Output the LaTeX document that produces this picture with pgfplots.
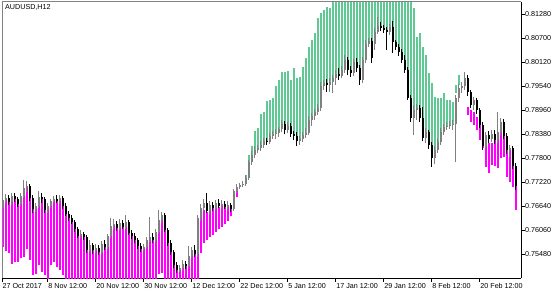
\documentclass[border=0pt]{standalone}
\usepackage{fontspec}
\setmainfont{Liberation Sans}
\usepackage{pgfplots}
\usepackage{pgfplotstable}
\pgfplotsset{compat=1.18}
\definecolor{histgreen}{RGB}{96,200,146}
\definecolor{histmag}{RGB}{255,0,255}
\definecolor{bullgray}{RGB}{128,128,128}
\definecolor{framegray}{RGB}{130,130,130}

\pgfplotstableread{
x o h l c
1 0.76599 0.76865 0.76430 0.76792
2 0.76792 0.76937 0.76720 0.76840
3 0.76840 0.76913 0.76671 0.76744
4 0.76744 0.76961 0.76671 0.76889
5 0.76889 0.76961 0.76744 0.76816
6 0.76816 0.76865 0.76623 0.76695
7 0.76695 0.76961 0.76647 0.76889
8 0.76889 0.77276 0.76840 0.77082
9 0.77082 0.77251 0.76985 0.77131
10 0.77131 0.77179 0.76768 0.76840
11 0.76840 0.76913 0.76478 0.76575
12 0.76575 0.76720 0.76502 0.76647
13 0.76647 0.77010 0.76599 0.76865
14 0.76865 0.76961 0.76720 0.76816
15 0.76816 0.76865 0.76478 0.76550
16 0.76550 0.76720 0.76478 0.76647
17 0.76647 0.76816 0.76599 0.76768
18 0.76768 0.76889 0.76720 0.76816
19 0.76816 0.76913 0.76720 0.76768
20 0.76768 0.76913 0.76695 0.76840
21 0.76840 0.76889 0.76575 0.76647
22 0.76647 0.76720 0.76405 0.76454
23 0.76454 0.76526 0.76285 0.76357
24 0.76357 0.76430 0.76212 0.76260
25 0.76260 0.76309 0.76019 0.76091
26 0.76091 0.76140 0.75874 0.75922
27 0.75922 0.76067 0.75874 0.75970
28 0.75970 0.76019 0.75825 0.75898
29 0.75898 0.75946 0.75511 0.75584
30 0.75584 0.75825 0.75535 0.75705
31 0.75705 0.75753 0.75487 0.75584
32 0.75584 0.75729 0.75511 0.75632
33 0.75632 0.75705 0.75463 0.75535
34 0.75535 0.75801 0.75487 0.75729
35 0.75729 0.75825 0.75584 0.75656
36 0.75656 0.75970 0.75608 0.75922
37 0.75922 0.76357 0.75874 0.76164
38 0.76164 0.76333 0.76091 0.76212
39 0.76212 0.76285 0.76043 0.76115
40 0.76115 0.76333 0.76067 0.76236
41 0.76236 0.76309 0.76091 0.76140
42 0.76140 0.76430 0.76091 0.76260
43 0.76260 0.76309 0.75946 0.75995
44 0.75995 0.76067 0.75850 0.75922
45 0.75922 0.75995 0.75753 0.75825
46 0.75825 0.75874 0.75608 0.75680
47 0.75680 0.75753 0.75535 0.75608
48 0.75608 0.75729 0.75560 0.75656
49 0.75656 0.75898 0.75608 0.75825
50 0.75825 0.76381 0.75777 0.75898
51 0.75898 0.75995 0.75753 0.75825
52 0.75825 0.76091 0.75777 0.76019
53 0.76019 0.76550 0.75970 0.76309
54 0.76309 0.76502 0.76236 0.76430
55 0.76430 0.76478 0.76019 0.76067
56 0.76067 0.76115 0.75680 0.75753
57 0.75753 0.75825 0.75463 0.75535
58 0.75535 0.75584 0.75149 0.75221
59 0.75221 0.75294 0.75028 0.75100
60 0.75100 0.75221 0.75052 0.75149
61 0.75149 0.75342 0.75076 0.75245
62 0.75245 0.75318 0.75125 0.75197
63 0.75197 0.75680 0.75149 0.75439
64 0.75439 0.75656 0.75390 0.75584
65 0.75584 0.75705 0.75415 0.75487
66 0.75487 0.76430 0.75415 0.76357
67 0.76357 0.76695 0.76285 0.76599
68 0.76599 0.76816 0.76526 0.76720
69 0.76720 0.76961 0.76478 0.76526
70 0.76526 0.76768 0.76454 0.76671
71 0.76671 0.76744 0.76526 0.76599
72 0.76599 0.76792 0.76550 0.76720
73 0.76720 0.76816 0.76599 0.76647
74 0.76647 0.76792 0.76575 0.76695
75 0.76695 0.76768 0.76575 0.76623
76 0.76623 0.76768 0.76550 0.76671
77 0.76671 0.76720 0.76502 0.76575
78 0.76575 0.77058 0.76526 0.77010
79 0.77010 0.77179 0.76961 0.77106
80 0.77106 0.77203 0.77058 0.77155
81 0.77155 0.77251 0.77106 0.77179
82 0.77179 0.77396 0.77131 0.77324
83 0.77324 0.77759 0.77276 0.77711
84 0.77711 0.77977 0.77638 0.77880
85 0.77880 0.78097 0.77807 0.78001
86 0.78001 0.78122 0.77928 0.78049
87 0.78049 0.78218 0.77977 0.78122
88 0.78122 0.78291 0.78049 0.78218
89 0.78218 0.78291 0.78122 0.78194
90 0.78194 0.78412 0.78146 0.78339
91 0.78339 0.78460 0.78267 0.78387
92 0.78387 0.78508 0.78267 0.78412
93 0.78412 0.78557 0.78315 0.78508
94 0.78508 0.78726 0.78436 0.78629
95 0.78629 0.78702 0.78387 0.78484
96 0.78484 0.78677 0.78412 0.78581
97 0.78581 0.78653 0.78315 0.78387
98 0.78387 0.78460 0.78242 0.78339
99 0.78339 0.78436 0.78097 0.78218
100 0.78218 0.78339 0.78122 0.78267
101 0.78267 0.78436 0.78194 0.78363
102 0.78363 0.78532 0.78291 0.78412
103 0.78412 0.78822 0.78363 0.78726
104 0.78726 0.78895 0.78581 0.78822
105 0.78822 0.78992 0.78726 0.78919
106 0.78919 0.79112 0.78847 0.79016
107 0.79016 0.79644 0.78943 0.79547
108 0.79547 0.79693 0.79451 0.79620
109 0.79620 0.79717 0.79402 0.79572
110 0.79572 0.79741 0.79402 0.79644
111 0.79644 0.79813 0.79378 0.79741
112 0.79741 0.79934 0.79572 0.79837
113 0.79837 0.79982 0.79693 0.79789
114 0.79789 0.80031 0.79741 0.79934
115 0.79934 0.80297 0.79862 0.80176
116 0.80176 0.80248 0.79813 0.79934
117 0.79934 0.80031 0.79765 0.79862
118 0.79862 0.80200 0.79789 0.80127
119 0.80127 0.80224 0.79886 0.79982
120 0.79982 0.80055 0.79572 0.79693
121 0.79693 0.80248 0.79620 0.80176
122 0.80176 0.80659 0.80103 0.80563
123 0.80563 0.80708 0.80490 0.80635
124 0.80635 0.80708 0.80103 0.80224
125 0.80563 0.80949 0.80418 0.80853
126 0.80853 0.81215 0.80804 0.80998
127 0.80998 0.81094 0.80877 0.80949
128 0.80949 0.81022 0.80828 0.80901
129 0.80901 0.80973 0.80418 0.80853
130 0.80853 0.81046 0.80780 0.80973
131 0.80973 0.81118 0.80345 0.80611
132 0.80611 0.80659 0.80418 0.80490
133 0.80490 0.80563 0.80272 0.80369
134 0.80369 0.80442 0.80103 0.80176
135 0.80176 0.80297 0.79862 0.79934
136 0.79934 0.80007 0.79209 0.79257
137 0.79257 0.79330 0.78677 0.78774
138 0.78774 0.79088 0.78363 0.78968
139 0.78968 0.79112 0.78726 0.79016
140 0.79016 0.79088 0.78677 0.78774
141 0.78774 0.79040 0.78218 0.78291
142 0.78291 0.78532 0.78170 0.78436
143 0.78436 0.78484 0.78025 0.78122
144 0.78122 0.78194 0.77590 0.77807
145 0.77807 0.78097 0.77662 0.78001
146 0.78001 0.78267 0.77928 0.78194
147 0.78194 0.78532 0.78122 0.78436
148 0.78436 0.78629 0.78363 0.78557
149 0.78557 0.78677 0.78484 0.78581
150 0.78581 0.78702 0.78508 0.78605
151 0.78605 0.78726 0.78484 0.78629
152 0.78629 0.79330 0.77711 0.79257
153 0.79257 0.79596 0.79161 0.79499
154 0.79499 0.79644 0.79378 0.79547
155 0.79547 0.79886 0.79451 0.79741
156 0.79741 0.79813 0.79306 0.79402
157 0.79402 0.79451 0.79016 0.79088
158 0.79088 0.79282 0.78968 0.79209
159 0.79209 0.79257 0.78871 0.78968
160 0.78968 0.79016 0.78532 0.78605
161 0.78605 0.78677 0.78001 0.78097
162 0.78097 0.78436 0.78049 0.78363
163 0.78363 0.78460 0.78170 0.78267
164 0.78267 0.78484 0.78194 0.78387
165 0.78387 0.78484 0.78146 0.78242
166 0.78242 0.78919 0.78170 0.78436
167 0.78436 0.78774 0.78363 0.78677
168 0.78677 0.78750 0.78267 0.78339
169 0.78339 0.78412 0.77904 0.78001
170 0.78001 0.78122 0.77832 0.78049
171 0.78049 0.78097 0.77542 0.77614
172 0.77614 0.77687 0.77034 0.77131
}\cand

\pgfplotstableread{
x lo hi
82 0.77276 0.77396
83 0.77687 0.77880
84 0.77856 0.78097
85 0.77977 0.78460
86 0.78025 0.78532
87 0.78097 0.78871
88 0.78194 0.78919
89 0.78194 0.79185
90 0.78315 0.79209
91 0.78363 0.79257
92 0.78387 0.79547
93 0.78484 0.79693
94 0.78605 0.79886
95 0.78605 0.79886
96 0.78557 0.79910
97 0.78557 0.79693
98 0.78363 0.79982
99 0.78315 0.79741
100 0.78242 0.79765
101 0.78339 0.80007
102 0.78387 0.80224
103 0.78702 0.80490
104 0.78798 0.80659
105 0.78895 0.80828
106 0.78992 0.81191
107 0.79523 0.81312
108 0.79596 0.81384
109 0.79596 0.81457
110 0.79620 0.81433
111 0.79717 0.81750
112 0.79813 0.81750
113 0.79813 0.81750
114 0.79910 0.81750
115 0.80152 0.81750
116 0.80152 0.81750
117 0.79910 0.81750
118 0.80103 0.81750
119 0.80103 0.81750
120 0.79958 0.81750
121 0.80152 0.81750
122 0.80538 0.81750
123 0.80611 0.81750
124 0.80611 0.81750
125 0.80828 0.81750
126 0.80973 0.81750
127 0.80973 0.81750
128 0.80925 0.81750
129 0.80877 0.81750
130 0.80949 0.81750
131 0.80949 0.81750
132 0.80587 0.81750
133 0.80466 0.81750
134 0.80345 0.81750
135 0.80152 0.81750
136 0.79910 0.81750
137 0.79233 0.81750
138 0.78943 0.81433
139 0.78992 0.80732
140 0.78992 0.80828
141 0.78750 0.80490
142 0.78412 0.80297
143 0.78412 0.79862
144 0.78097 0.79620
145 0.77977 0.79282
146 0.78170 0.79257
147 0.78412 0.79257
148 0.78532 0.79378
149 0.78557 0.79209
150 0.78581 0.79209
151 0.78605 0.79161
152 0.79378 0.79572
153 0.79572 0.79813
}\greenh

\pgfplotstableread{
x lo hi
1 0.75656 0.76599
2 0.75560 0.76792
3 0.75511 0.76744
4 0.75245 0.76744
5 0.75294 0.76816
6 0.75294 0.76695
7 0.75390 0.76695
8 0.75415 0.76889
9 0.75608 0.77082
10 0.75342 0.76840
11 0.74980 0.76575
12 0.75004 0.76575
13 0.75221 0.76647
14 0.75052 0.76816
15 0.74980 0.76550
16 0.74859 0.76550
17 0.75221 0.76647
18 0.75294 0.76768
19 0.75173 0.76768
20 0.75100 0.76768
21 0.74980 0.76647
22 0.74800 0.76454
23 0.74800 0.76357
24 0.74800 0.76260
25 0.74800 0.76091
26 0.74800 0.75922
27 0.74800 0.75922
28 0.74800 0.75898
29 0.74800 0.75584
30 0.74800 0.75584
31 0.74800 0.75584
32 0.74800 0.75584
33 0.74800 0.75535
34 0.74800 0.75535
35 0.74800 0.75656
36 0.74800 0.75656
37 0.74800 0.75922
38 0.74800 0.76164
39 0.74800 0.76115
40 0.74800 0.76115
41 0.74800 0.76140
42 0.74800 0.76140
43 0.74800 0.75995
44 0.74800 0.75922
45 0.74800 0.75825
46 0.74800 0.75680
47 0.74800 0.75608
48 0.74800 0.75608
49 0.74800 0.75656
50 0.74800 0.75825
51 0.74800 0.75825
52 0.74800 0.75825
53 0.75004 0.76019
54 0.75028 0.76309
55 0.74800 0.76067
56 0.74800 0.75753
57 0.74800 0.75535
58 0.74800 0.75221
59 0.74800 0.75100
60 0.74800 0.75100
61 0.74800 0.75149
62 0.74800 0.75197
63 0.74800 0.75197
64 0.74800 0.75439
65 0.74800 0.75487
66 0.74800 0.75487
67 0.75511 0.76357
68 0.75753 0.76550
69 0.75825 0.76502
70 0.75898 0.76526
71 0.75946 0.76599
72 0.76019 0.76623
73 0.76091 0.76623
74 0.76140 0.76647
75 0.76212 0.76623
76 0.76285 0.76647
77 0.76405 0.76575
79 0.76865 0.77010
156 0.78847 0.79040
157 0.78677 0.78968
158 0.78605 0.78919
159 0.78484 0.78798
160 0.78242 0.78653
161 0.78049 0.78532
162 0.77590 0.78291
163 0.77445 0.78170
164 0.77638 0.78170
165 0.77614 0.78242
166 0.77566 0.78363
167 0.77807 0.78436
168 0.77832 0.78339
169 0.77348 0.78001
170 0.77227 0.78001
171 0.77106 0.77614
172 0.76550 0.77131
}\magh

\begin{document}
\begin{tikzpicture}
\useasboundingbox (-2bp,-16bp) rectangle (558bp,278bp);
\begin{axis}[
  at={(0,0)}, anchor=south west,
  width=519bp, height=276bp, scale only axis,
  xmin=0.767, xmax=173.767,
  ymin=0.74907, ymax=0.81578,
  axis x line*=bottom, axis y line*=right,
  axis line style={black, line width=0.8bp},
  tick align=outside,
  major tick length=3.5bp,
  tick style={black, line width=0.8bp},
  xtick={0.767,16,32,48,64,80,96,112,128,144,160},
  xticklabels={27 Oct 2017,8 Nov 12:00,20 Nov 12:00,30 Nov 12:00,12 Dec 12:00,22 Dec 12:00,5 Jan 12:00,17 Jan 12:00,29 Jan 12:00,8 Feb 12:00,20 Feb 12:00},
  x tick label style={anchor=north west, inner sep=0pt, xshift=0.5bp, yshift=-1.5bp, font=\fontsize{7.2}{8}\selectfont},
  ytick={0.7548,0.7606,0.7664,0.7722,0.7780,0.7838,0.7896,0.7954,0.8012,0.8070,0.8128},
  yticklabels={0.75480,0.76060,0.76640,0.77220,0.77800,0.78380,0.78960,0.79540,0.80120,0.80700,0.81280},
  y tick label style={anchor=west, inner sep=0pt, xshift=0.5bp, font=\fontsize{7.2}{8}\selectfont},
]
% histogram: green
\addplot[draw=none, mark=none, forget plot,
  error bars/.cd, y dir=plus, y explicit, error mark=none,
  error bar style={draw=histgreen, line width=1.7bp}]
  table[x=x, y=lo, y error plus expr=\thisrow{hi}-\thisrow{lo}] {\greenh};
% histogram: magenta
\addplot[draw=none, mark=none, forget plot,
  error bars/.cd, y dir=plus, y explicit, error mark=none,
  error bar style={draw=histmag, line width=1.7bp}]
  table[x=x, y=lo, y error plus expr=\thisrow{hi}-\thisrow{lo}] {\magh};
% wicks bull
\addplot[draw=none, mark=none, forget plot,
  restrict expr to domain={\thisrow{c}-\thisrow{o}}{0:1},
  error bars/.cd, y dir=plus, y explicit, error mark=none,
  error bar style={draw=bullgray, line width=0.9bp}]
  table[x=x, y=l, y error plus expr=\thisrow{h}-\thisrow{l}] {\cand};
% wicks bear
\addplot[draw=none, mark=none, forget plot,
  restrict expr to domain={\thisrow{c}-\thisrow{o}}{-1:0},
  error bars/.cd, y dir=plus, y explicit, error mark=none,
  error bar style={draw=black, line width=0.9bp}]
  table[x=x, y=l, y error plus expr=\thisrow{h}-\thisrow{l}] {\cand};
% bodies bull
\addplot[draw=none, mark=none, forget plot,
  restrict expr to domain={\thisrow{c}-\thisrow{o}}{0:1},
  error bars/.cd, y dir=plus, y explicit, error mark=none,
  error bar style={draw=bullgray, line width=2.1bp}]
  table[x=x, y=o, y error plus expr=\thisrow{c}-\thisrow{o}] {\cand};
% bodies bear
\addplot[draw=none, mark=none, forget plot,
  restrict expr to domain={\thisrow{c}-\thisrow{o}}{-1:0},
  error bars/.cd, y dir=plus, y explicit, error mark=none,
  error bar style={draw=black, line width=2.1bp}]
  table[x=x, y=c, y error plus expr=\thisrow{o}-\thisrow{c}] {\cand};
\end{axis}
\draw[framegray, line width=1bp] (0,0) -- (0,276bp) -- (519bp,276bp);
\node[anchor=north west, inner sep=0pt, font=\fontsize{7.2}{8}\selectfont] at (3bp,274bp) {AUDUSD,H12};
\end{tikzpicture}
\end{document}
